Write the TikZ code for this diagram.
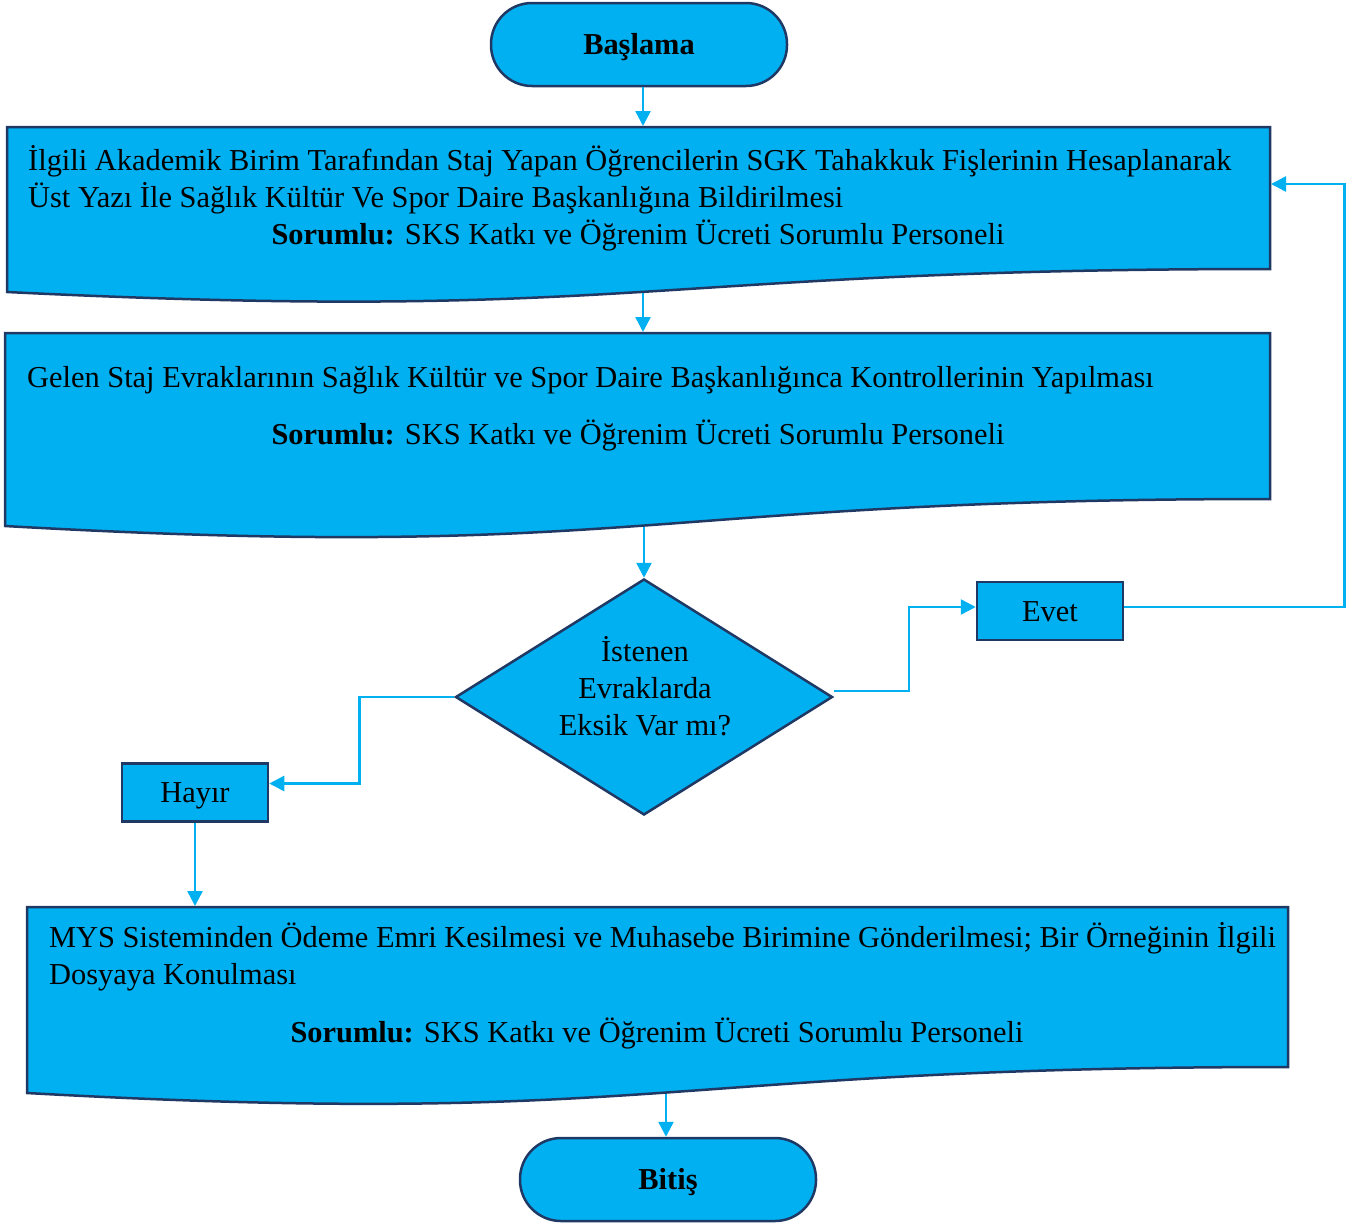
\documentclass[tikz,border=0pt]{standalone}
\usepackage{fontspec}
\setmainfont{Liberation Serif}
\usetikzlibrary{shapes.geometric,arrows.meta}
\definecolor{fillc}{HTML}{00B0F0}
\definecolor{edgec}{HTML}{1F3864}
\definecolor{connc}{HTML}{00B0F0}
\begin{document}
\begin{tikzpicture}[x=1pt,y=-1pt,
  txt/.style={inner sep=0pt, font=\fontsize{30.4}{37}\selectfont},
  term/.style={draw=edgec, fill=fillc, line width=2.5pt, rounded corners=41pt, minimum width=296pt, minimum height=83pt, inner sep=0pt},
  shp/.style={draw=edgec, fill=fillc, line width=2.5pt},
  lbl/.style={draw=edgec, fill=fillc, line width=2.5pt, minimum width=146pt, minimum height=58pt, inner sep=0pt},
  conn/.style={draw=connc, line width=2.5pt, -{Triangle[length=15pt,width=15pt]}}]
\useasboundingbox (0,0) rectangle (1354,1224);

% terminators
\node[term] (st) at (639,44.5) {};
\node[txt, anchor=base] (stt) at (639,54) {\textbf{Başlama}};
\node[term] (en) at (668,1179.5) {};
\node[txt, anchor=base] (ent) at (668,1189) {\textbf{Bitiş}};

% document boxes
\path[shp] (7,127) -- (1270,127) -- (1270,269) .. controls (638.5,269) and (638.5,323) .. (7,292) -- cycle;
\path[shp] (5,333) -- (1270,333) -- (1270,499) .. controls (637.5,499) and (637.5,562) .. (5,526) -- cycle;
\path[shp] (27,907) -- (1288,907) -- (1288,1067) .. controls (657.5,1067) and (657.5,1128) .. (27,1093) -- cycle;

\coordinate (b1in) at (643,126);
\coordinate (b1out) at (643,293);
\coordinate (b2in) at (643,332);
\coordinate (b2out) at (644,527);
\coordinate (b3in) at (195,906);
\coordinate (b3out) at (666,1094);
\coordinate (b1r) at (1271,184);

% box texts
\node[txt, anchor=base west] (t1a) at (28,170) {İlgili Akademik Birim Tarafından Staj Yapan Öğrencilerin SGK Tahakkuk Fişlerinin Hesaplanarak};
\node[txt, anchor=base west] (t1b) at (28,207) {Üst Yazı İle Sağlık Kültür Ve Spor Daire Başkanlığına Bildirilmesi};
\node[txt, anchor=base] (t1c) at (638,244) {\textbf{Sorumlu:} SKS Katkı ve Öğrenim Ücreti Sorumlu Personeli};

\node[txt, anchor=base west] (t2a) at (27,387) {Gelen Staj Evraklarının Sağlık Kültür ve Spor Daire Başkanlığınca Kontrollerinin Yapılması};
\node[txt, anchor=base] (t2b) at (638,444) {\textbf{Sorumlu:} SKS Katkı ve Öğrenim Ücreti Sorumlu Personeli};

\node[txt, anchor=base west] (t3a) at (49,947) {MYS Sisteminden Ödeme Emri Kesilmesi ve Muhasebe Birimine Gönderilmesi; Bir Örneğinin İlgili};
\node[txt, anchor=base west] (t3b) at (49,984) {Dosyaya Konulması};
\node[txt, anchor=base] (t3c) at (657,1042) {\textbf{Sorumlu:} SKS Katkı ve Öğrenim Ücreti Sorumlu Personeli};

% decision
\node[shp, diamond, minimum width=377pt, minimum height=236pt, aspect=1.6, inner sep=0pt] (d) at (644,697) {};
\node[txt, anchor=base] (da) at (645,661) {İstenen};
\node[txt, anchor=base] (db) at (645,698) {Evraklarda};
\node[txt, anchor=base] (dc) at (645,735) {Eksik Var mı?};

% labels
\node[lbl] (ev) at (1050,611) {};
\node[txt, anchor=base] (evt) at (1050,621) {Evet};
\node[lbl] (hy) at (195,792.5) {};
\node[txt, anchor=base] (hyt) at (195,802) {Hayır};

% connectors
\draw[conn] (st.south -| b1in) -- (b1in);
\draw[conn] (b1out) -- (b2in);
\draw[conn] (b2out) -- (b2out |- d.north);
\draw[conn] ([yshift=6pt]d.east) -- ++(75,0) |- ([yshift=4pt]ev.west);
\draw[conn] ([yshift=4pt]ev.east) -- ++(220,0) |- (b1r);
\draw[conn] (d.west) -- ++(-95,0) |- ([yshift=9pt]hy.east);
\draw[conn] (hy.south) -- (hy.south |- b3in);
\draw[conn] (b3out) -- (b3out |- en.north);
\end{tikzpicture}
\end{document}
